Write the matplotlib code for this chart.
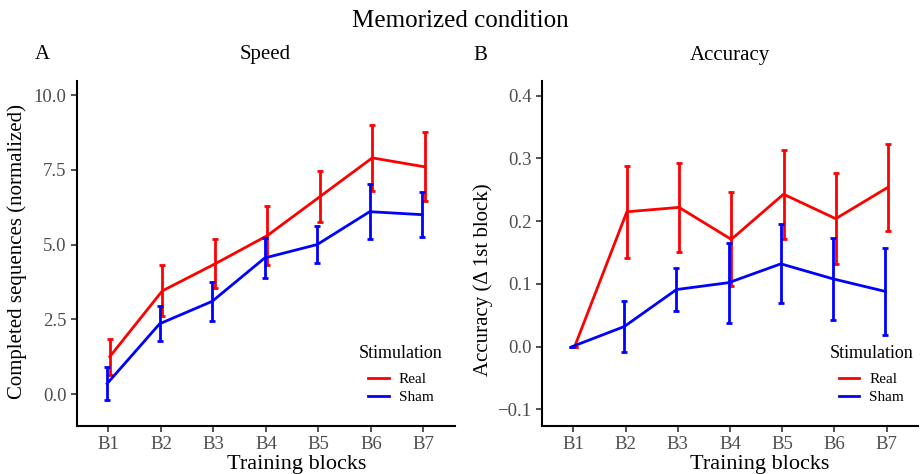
import matplotlib

matplotlib.use("Agg")
import matplotlib.pyplot as plt
import numpy as np

plt.rcParams["font.family"] = ["Liberation Serif", "DejaVu Serif"]

bloques = ["B1", "B2", "B3", "B4", "B5", "B6", "B7"]

# Speed (completed sequences, normalized)
speed_real = [1.25, 3.45, 4.35, 5.30, 6.60, 7.90, 7.60]
speed_real_se = [0.60, 0.85, 0.82, 1.00, 0.85, 1.10, 1.15]
speed_sham = [0.35, 2.35, 3.10, 4.55, 5.00, 6.10, 6.00]
speed_sham_se = [0.56, 0.58, 0.65, 0.67, 0.62, 0.91, 0.75]

# Accuracy (delta 1st block)
acc_real = [0.0, 0.215, 0.222, 0.171, 0.243, 0.204, 0.254]
acc_real_se = [0.0, 0.073, 0.071, 0.075, 0.071, 0.073, 0.069]
acc_sham = [0.0, 0.032, 0.091, 0.102, 0.132, 0.108, 0.088]
acc_sham_se = [0.0, 0.040, 0.034, 0.064, 0.063, 0.065, 0.070]

ROJO = "#FF0000"
AZUL = "#0000FF"
GRIS = "#4D4D4D"


def dibujar_panel(eje, real, real_se, sham, sham_se, ylim, yticks, ylabel,
                  ylabel_y, leyenda_x):
    x = np.arange(1, len(bloques) + 1)
    for valores, errores, color, nombre, dx in [
        (real, real_se, ROJO, "Real", 0.025),
        (sham, sham_se, AZUL, "Sham", -0.025),
    ]:
        eje.plot(x + dx, valores, color=color, lw=2.0, label=nombre, zorder=3)
        eje.errorbar(x + dx, valores, yerr=errores, fmt="none", ecolor=color,
                     elinewidth=2.0, capsize=2.5, capthick=2.0, zorder=3)
    eje.set_xlim(0.4, 7.6)
    eje.set_ylim(*ylim)
    eje.set_xticks(x)
    eje.set_xticklabels(bloques)
    eje.set_yticks(yticks)
    eje.set_yticklabels([f"{v:.1f}".replace("-", "\u2212") for v in yticks])
    eje.tick_params(axis="both", labelsize=13.5, labelcolor=GRIS, length=4,
                    width=1.2, color="#333333")
    for lado in ["top", "right"]:
        eje.spines[lado].set_visible(False)
    for lado in ["left", "bottom"]:
        eje.spines[lado].set_linewidth(1.5)
    eje.set_xlabel("Training blocks", fontsize=16)
    eje.xaxis.set_label_coords(0.58, -0.085)
    eje.set_ylabel(ylabel, fontsize=15)
    eje.yaxis.set_label_coords(-0.131, ylabel_y)
    leyenda = eje.legend(title="Stimulation", loc="lower right",
                         bbox_to_anchor=(leyenda_x, 0.064), frameon=False,
                         borderaxespad=0, borderpad=0,
                         fontsize=11, title_fontsize=13, handlelength=1.35,
                         labelspacing=0.25, handletextpad=0.65)
    leyenda._legend_box.sep = 8
    for linea in leyenda.get_lines():
        linea.set_linewidth(2.0)


figura = plt.figure(figsize=(9.21, 4.74), dpi=100)
eje_a = figura.add_axes([0.0836, 0.1013, 0.4104, 0.7277])
eje_b = figura.add_axes([0.5885, 0.1013, 0.4082, 0.7277])

dibujar_panel(eje_a, speed_real, speed_real_se, speed_sham, speed_sham_se,
              (-1.07, 10.47), [0.0, 2.5, 5.0, 7.5, 10.0],
              "Completed sequences (normalized)", 0.507, 0.968)
dibujar_panel(eje_b, acc_real, acc_real_se, acc_sham, acc_sham_se,
              (-0.1265, 0.4234), [-0.1, 0.0, 0.1, 0.2, 0.3, 0.4],
              "Accuracy (\u0394 1st block)", 0.423, 0.987)

figura.text(0.5, 0.955, "Memorized condition", ha="center", va="center", fontsize=18)
figura.text(0.046, 0.885, "A", ha="center", va="center", fontsize=15)
figura.text(0.288, 0.885, "Speed", ha="center", va="center", fontsize=15)
figura.text(0.522, 0.883, "B", ha="center", va="center", fontsize=15)
figura.text(0.793, 0.883, "Accuracy", ha="center", va="center", fontsize=15)

figura.savefig("out.png", dpi=100)
plt.close(figura)
